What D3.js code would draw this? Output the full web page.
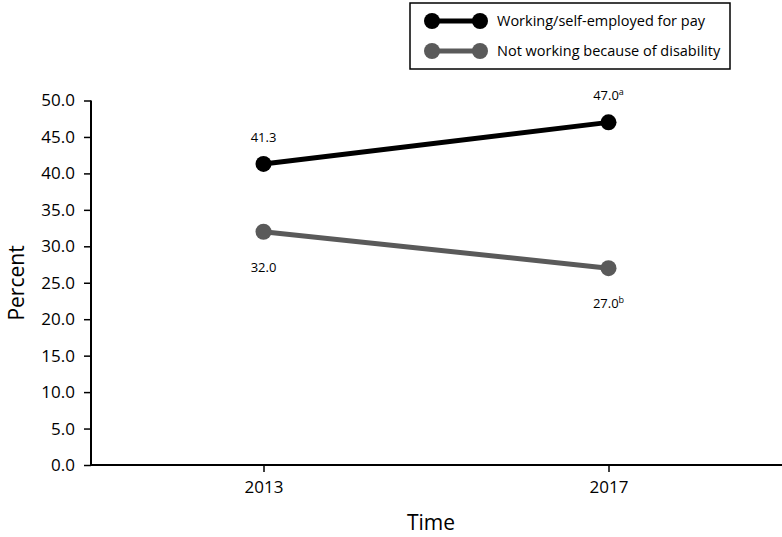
<!DOCTYPE html>
<html>
<head>
<meta charset="utf-8">
<script src="https://cdn.jsdelivr.net/npm/d3@7"></script>
<style>
  html, body { margin: 0; padding: 0; background: #fff; }
  text { font-family: "Open Sans", "Noto Sans", sans-serif; fill: #000; }
</style>
</head>
<body>
<svg id="chart" width="782" height="537"></svg>
<script>
const years = [2013, 2017];
const seriesNames = ["Working/self-employed for pay", "Not working because of disability"];
const working = [41.3, 47.0];
const disability = [32.0, 27.0];
const workingLabels = ["41.3", "47.0"];
const workingSup = ["", "a"];
const disabilityLabels = ["32.0", "27.0"];
const disabilitySup = ["", "b"];
const yTicks = [0, 5, 10, 15, 20, 25, 30, 35, 40, 45, 50];
const xTicks = [2013, 2017];
const colors = ["#000000", "#5a5a5a"];

const svg = d3.select("#chart");
const x = d3.scaleLinear().domain([2011, 2019]).range([91, 781]);
const y = d3.scaleLinear().domain([0, 50]).range([465, 100.5]);

// Y axis
const yAxis = svg.append("g").attr("transform", "translate(91,0)")
  .call(d3.axisLeft(y).tickValues(yTicks).tickFormat(d3.format(".1f")).tickSize(7).tickPadding(9));
yAxis.select(".domain").attr("stroke", "#000").attr("stroke-width", 2).attr("d", "M0,100.5V465");
yAxis.selectAll(".tick line").attr("stroke", "#000").attr("stroke-width", 1.5);
yAxis.selectAll(".tick text").style("font-size", "17px").style("font-family", "'Open Sans', sans-serif").attr("fill", "#000");

// X axis
const xAxis = svg.append("g").attr("transform", "translate(0,465)")
  .call(d3.axisBottom(x).tickValues(xTicks).tickFormat(d3.format("d")).tickSize(7).tickPadding(9));
xAxis.select(".domain").attr("stroke", "#000").attr("stroke-width", 2).attr("d", "M91,0H782");
xAxis.selectAll(".tick line").attr("stroke", "#000").attr("stroke-width", 1.5);
xAxis.selectAll(".tick text").style("font-size", "17px").style("font-family", "'Open Sans', sans-serif").attr("fill", "#000");

// Axis titles
svg.append("text").attr("x", 431).attr("y", 530).attr("text-anchor", "middle")
  .style("font-size", "21px").text("Time");
svg.append("text").attr("transform", "translate(24,283) rotate(-90)").attr("text-anchor", "middle")
  .style("font-size", "21px").text("Percent");

// Series
const series = [
  {name: seriesNames[0], values: working, labels: workingLabels, sups: workingSup, color: colors[0], dy: -22},
  {name: seriesNames[1], values: disability, labels: disabilityLabels, sups: disabilitySup, color: colors[1], dy: 40}
];
const line = d3.line().x((d, i) => x(years[i])).y(d => y(d));
series.forEach(s => {
  svg.append("path").attr("d", line(s.values)).attr("fill", "none")
    .attr("stroke", s.color).attr("stroke-width", 5);
  svg.selectAll(null).data(s.values).enter().append("circle")
    .attr("cx", (d, i) => x(years[i])).attr("cy", d => y(d)).attr("r", 8)
    .attr("fill", s.color);
  s.values.forEach((v, i) => {
    const t = svg.append("text").attr("x", x(years[i])).attr("y", y(v) + s.dy)
      .attr("text-anchor", "middle").style("font-size", "13px");
    t.append("tspan").text(s.labels[i]);
    if (s.sups[i]) {
      t.append("tspan").attr("dy", -5).style("font-size", "9px").text(s.sups[i]);
    }
  });
});

// Legend
const lg = svg.append("g");
lg.append("rect").attr("x", 410).attr("y", 3).attr("width", 320).attr("height", 66)
  .attr("fill", "#fff").attr("stroke", "#000").attr("stroke-width", 1.5);
series.forEach((s, i) => {
  const ly = 21 + i * 30;
  lg.append("line").attr("x1", 432).attr("x2", 480).attr("y1", ly).attr("y2", ly)
    .attr("stroke", s.color).attr("stroke-width", 5);
  lg.append("circle").attr("cx", 432).attr("cy", ly).attr("r", 8).attr("fill", s.color);
  lg.append("circle").attr("cx", 480).attr("cy", ly).attr("r", 8).attr("fill", s.color);
  lg.append("text").attr("x", 497).attr("y", ly + 5).style("font-size", "14.5px").text(s.name);
});
</script>
</body>
</html>
